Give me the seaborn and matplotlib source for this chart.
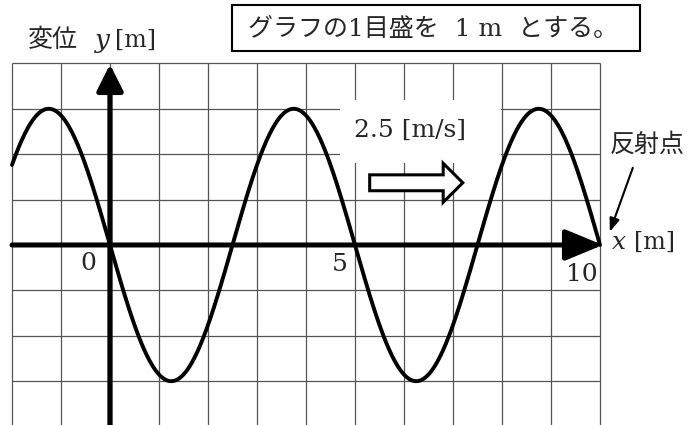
import numpy as np
import seaborn as sns
import matplotlib.pyplot as plt
from matplotlib.patches import Rectangle, FancyArrow

# wave
amplitude = 3.0      # m (peak reaches the 3rd grid line)
wavelength = 5.0     # m (zeros at 0, 2.5, 5, 7.5, 10)
x_start, x_end = -2.0, 10.0
grid_x = list(range(-2, 11))
grid_y = list(range(-4, 5))
tick_labels = {0: '0', 5: '5', 10: '10'}
speed_label = '2.5 [m/s]'
title_text = 'グラフの1目盛を  1 m  とする。'
ylabel_text = '変位'
reflect_text = '反射点'

x = np.linspace(x_start, x_end, 600)
y = -amplitude * np.sin(2 * np.pi * x / wavelength)

sns.set_style('white')
plt.rcParams['font.family'] = ['DejaVu Serif', 'Noto Sans CJK JP']
plt.rcParams['mathtext.fontset'] = 'dejavuserif'

fig = plt.figure(figsize=(6.87, 4.25), dpi=100)
ax = fig.add_axes([0, 0, 1, 1])
ax.set_xlim(-2.245, 11.776)
ax.set_ylim(-3.965, 5.396)
ax.axis('off')

# grid
ax.vlines(grid_x, grid_y[0], grid_y[-1], color='#555555', lw=0.9, zorder=1)
ax.hlines(grid_y, grid_x[0], grid_x[-1], color='#555555', lw=0.9, zorder=1)

# white patch behind the speed label
ax.add_patch(Rectangle((4.69, 1.81), 3.28, 1.38, facecolor='white', edgecolor='none', zorder=2))

# wave
sns.lineplot(x=x, y=y, ax=ax, color='black', lw=2.8, zorder=3)

# axes arrows
ax.annotate('', xy=(10.06, 0), xytext=(x_start, 0),
            arrowprops=dict(arrowstyle='-|>,head_length=2.3,head_width=0.95', lw=3.6,
                            color='black', mutation_scale=10, shrinkA=0, shrinkB=0),
            zorder=4)
ax.annotate('', xy=(0, 3.98), xytext=(0, -4.2),
            arrowprops=dict(arrowstyle='-|>,head_length=1.6,head_width=0.8', lw=3.8,
                            color='black', mutation_scale=10, shrinkA=0, shrinkB=0),
            zorder=4)

# tick labels
ax.text(-0.45, -0.4, tick_labels[0], fontsize=18, ha='center', va='center', zorder=5)
ax.text(4.7, -0.44, tick_labels[5], fontsize=18, ha='center', va='center', zorder=5)
ax.text(9.62, -0.64, tick_labels[10], fontsize=18, ha='center', va='center', zorder=5)

# axis labels
ax.text(10.22, 0.05, '$x$', fontsize=18, ha='left', va='center')
ax.text(10.7, 0.05, '[m]', fontsize=17, ha='left', va='center')
ax.text(-1.67, 4.5, ylabel_text, fontsize=18, ha='left', va='center')
ax.text(-0.33, 4.46, '$y$', fontsize=19, ha='left', va='center')
ax.text(0.1, 4.5, '[m]', fontsize=17, ha='left', va='center')

# speed label and hollow arrow
ax.text(6.12, 2.53, speed_label, fontsize=18, ha='center', va='center', zorder=5)
ax.add_patch(FancyArrow(5.30, 1.37, 1.90, 0, width=0.35, head_width=0.86, head_length=0.40,
                        length_includes_head=True, facecolor='white', edgecolor='black',
                        lw=2.2, zorder=5))

# reflection point
ax.text(10.2, 2.2, reflect_text, fontsize=18, ha='left', va='center')
ax.annotate('', xy=(10.2, 0.29), xytext=(10.67, 1.7),
            arrowprops=dict(arrowstyle='-|>,head_length=0.8,head_width=0.3', lw=1.5,
                            color='black', mutation_scale=10, shrinkA=0, shrinkB=0))

# title box
fig.patches.append(Rectangle((232 / 687, 1 - 51 / 425), 408 / 687, 46 / 425,
                             transform=fig.transFigure, facecolor='white',
                             edgecolor='black', lw=1.5))
fig.text(433 / 687, 1 - 29 / 425, title_text, fontsize=18, ha='center', va='center')

fig.savefig('out.png', dpi=100)
